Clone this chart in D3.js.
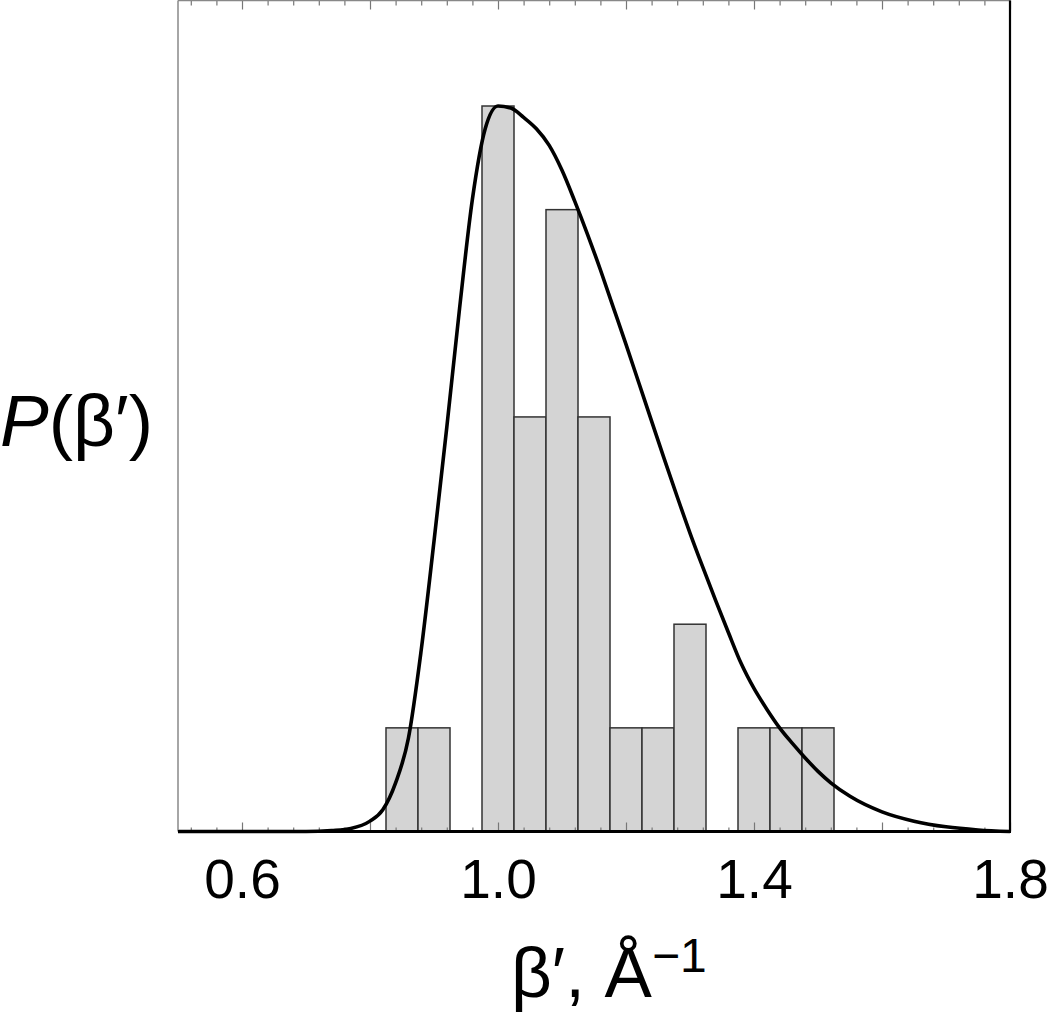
<!DOCTYPE html>
<html>
<head>
<meta charset="utf-8">
<script src="https://cdn.jsdelivr.net/npm/d3@7"></script>
<style>
  html, body { margin: 0; padding: 0; background: #fff; }
  svg { display: block; }
  text { font-family: "Liberation Sans", Arial, Helvetica, sans-serif; fill: #000; }
</style>
</head>
<body>
<svg id="chart" width="1050" height="1013"></svg>
<script>
// ---------- data ----------
const binWidth = 0.05;
const binCenters = [0.85, 0.90, 1.00, 1.05, 1.10, 1.15, 1.20, 1.25, 1.30, 1.40, 1.45, 1.50];
const binCounts  = [1,    1,    7,    4,    6,    4,    1,    1,    2,    1,    1,    1];

// fitted distribution curve (x, value in count units)
const curveX = [0.50, 0.70, 0.74, 0.77, 0.80, 0.82, 0.84, 0.86, 0.88, 0.90, 0.92, 0.94, 0.96, 0.98, 1.00, 1.02, 1.04, 1.06, 1.08, 1.10, 1.12, 1.14, 1.16, 1.18, 1.20, 1.22, 1.24, 1.26, 1.28, 1.30, 1.32, 1.34, 1.36, 1.38, 1.40, 1.42, 1.44, 1.46, 1.48, 1.50, 1.52, 1.55, 1.60, 1.65, 1.70, 1.75, 1.80];
const curveY = [0,    0,    0.01, 0.03, 0.10, 0.21, 0.47, 0.90, 1.75, 2.80, 3.90, 5.05, 6.10, 6.78, 7.00, 6.98, 6.89, 6.78, 6.62, 6.38, 6.08, 5.76, 5.42, 5.06, 4.70, 4.33, 3.96, 3.59, 3.23, 2.88, 2.55, 2.23, 1.92, 1.62, 1.38, 1.18, 1.00, 0.85, 0.71, 0.58, 0.47, 0.34, 0.19, 0.10, 0.045, 0.015, 0];

const xLabelTicks = [0.6, 1.0, 1.4, 1.8];
const majorTicks = [0.6, 0.8, 1.0, 1.2, 1.4, 1.6, 1.8];
const minorTicks = d3.range(13, 46).map(i => +(i * 0.04).toFixed(2)).filter(v => v > 0.5 && v <= 1.8 && !majorTicks.some(m => Math.abs(m - v) < 1e-6));

// ---------- layout ----------
const svg = d3.select("#chart");
const pL = 178, pR = 1010, pT = 0.5, pB = 831.5;

const x = d3.scaleLinear().domain([0.5, 1.8]).range([pL, pR]);
const y = d3.scaleLinear().domain([0, 8.018]).range([pB, pT]);

// bars
svg.append("g").selectAll("rect")
  .data(binCenters.map((c, i) => ({c, n: binCounts[i]})))
  .join("rect")
  .attr("x", d => x(d.c - binWidth / 2))
  .attr("y", d => y(d.n))
  .attr("width", d => x(d.c + binWidth / 2) - x(d.c - binWidth / 2))
  .attr("height", d => y(0) - y(d.n))
  .attr("fill", "#d4d4d4")
  .attr("stroke", "#333")
  .attr("stroke-width", 1.5);

// ticks (inward) bottom and top
function tickAxis(gen, ty, vals, size) {
  const g = svg.append("g").attr("transform", `translate(0,${ty})`)
    .call(gen(x).tickValues(vals).tickSize(-size).tickFormat(""));
  g.select(".domain").remove();
  g.selectAll("line").attr("stroke", "#777").attr("stroke-width", 1.2);
}
tickAxis(d3.axisBottom, pB, minorTicks, 4);
tickAxis(d3.axisBottom, pB, majorTicks, 9);
tickAxis(d3.axisTop, pT, minorTicks, 5);
tickAxis(d3.axisTop, pT, majorTicks, 9);

// curve
const line = d3.line()
  .x(d => x(d[0]))
  .y(d => y(d[1]))
  .curve(d3.curveMonotoneX);
svg.append("path")
  .datum(curveX.map((v, i) => [v, curveY[i]]))
  .attr("d", line)
  .attr("fill", "none")
  .attr("stroke", "#000")
  .attr("stroke-width", 3.6)
  .attr("stroke-linejoin", "round");

// frame
svg.append("line").attr("x1", pL).attr("x2", pL).attr("y1", pT).attr("y2", pB)
  .attr("stroke", "#888").attr("stroke-width", 1.5);
svg.append("line").attr("x1", pL).attr("x2", pR).attr("y1", pT).attr("y2", pT)
  .attr("stroke", "#888").attr("stroke-width", 1.5);
svg.append("line").attr("x1", pR).attr("x2", pR).attr("y1", pT).attr("y2", pB)
  .attr("stroke", "#000").attr("stroke-width", 2.2);
svg.append("line").attr("x1", pL).attr("x2", pR + 1).attr("y1", pB).attr("y2", pB)
  .attr("stroke", "#000").attr("stroke-width", 3);

// tick labels
const lab = svg.append("g").attr("transform", `translate(0,${pB})`)
  .call(d3.axisBottom(x).tickValues(xLabelTicks).tickSize(0).tickFormat(d3.format(".1f")));
lab.select(".domain").remove();
lab.selectAll("text")
  .attr("y", 66.5).attr("dy", 0)
  .style("font-family", "'Liberation Sans', Arial, sans-serif")
  .style("font-size", "55px")
  .attr("fill", "#000");

// y label
const yl = svg.append("text").attr("x", 0).attr("y", 446).style("font-size", "73px");
yl.append("tspan").style("font-style", "italic").text("P");
yl.append("tspan").text("(β′)");

// x title
const xt = svg.append("text").attr("x", 511).attr("y", 997).style("font-size", "71px");
xt.append("tspan").text("β′, Å");
xt.append("tspan").attr("dy", -25).style("font-size", "48px").text("−1");
</script>
</body>
</html>
